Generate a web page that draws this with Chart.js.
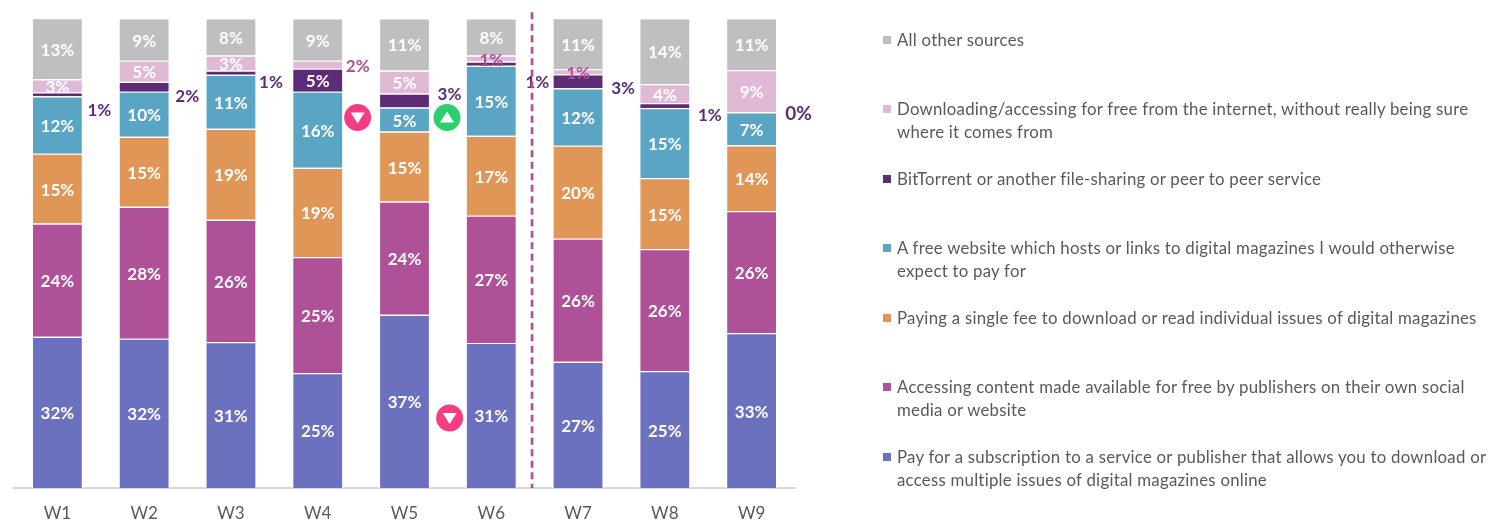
<!DOCTYPE html>
<html><head><meta charset="utf-8">
<style>
html,body{margin:0;padding:0;background:#fff;width:1489px;height:521px;overflow:hidden}
#wrap{position:relative;width:1489px;height:521px}
canvas{position:absolute;left:0;top:0}
.lg{position:absolute;left:897px;font:16.8px/23px Lato,sans-serif;letter-spacing:.25px;color:#595959;white-space:pre}
.sw{position:absolute;left:883px;width:8px;height:8px}
</style>
<script src="https://cdn.jsdelivr.net/npm/chart.js@4"></script>
</head><body>
<div id="wrap"><canvas id="c" width="1489" height="521"></canvas></div>
<script>
const categories=['W1','W2','W3','W4','W5','W6','W7','W8','W9'];
const subscription=[32.2,31.8,31.1,24.5,36.9,30.9,26.9,24.9,33];
const publisherFree=[24.1,28.1,26,24.7,24.1,27.1,26.2,26,26];
const singleFee=[14.9,14.9,19.4,19,14.9,17,19.8,15.1,14];
const freeWebsite=[12.2,9.6,11.5,16.2,5.1,14.9,12.2,14.9,7];
const bitTorrent=[0.85,2.1,0.9,4.9,3,0.9,3,1.1,0];
const freeInternet=[2.8,4.5,3.2,1.7,4.9,1.3,1.1,4,9];
const otherSources=[13,9,7.9,9,11.1,7.9,10.9,14,11];

const labelsSubscription=['32%','32%','31%','25%','37%','31%','27%','25%','33%'];
const labelsPublisherFree=['24%','28%','26%','25%','24%','27%','26%','26%','26%'];
const labelsSingleFee=['15%','15%','19%','19%','15%','17%','20%','15%','14%'];
const labelsFreeWebsite=['12%','10%','11%','16%','5%','15%','12%','15%','7%'];
const labelsBitTorrent=['1%','2%','1%','5%','3%','1%','3%','1%','0%'];
const labelsFreeInternet=['3%','5%','3%','2%','5%','1%','1%','4%','9%'];
const labelsOther=['13%','9%','8%','9%','11%','8%','11%','14%','11%'];

const names=['Pay for a subscription to a service or publisher that allows you to download or\naccess multiple issues of digital magazines online',
'Accessing content made available for free by publishers on their own social\nmedia or website',
'Paying a single fee to download or read individual issues of digital magazines',
'A free website which hosts or links to digital magazines I would otherwise\nexpect to pay for',
'BitTorrent or another file-sharing or peer to peer service',
'Downloading/accessing for free from the internet, without really being sure\nwhere it comes from',
'All other sources'];
const colors=['#6b70bf','#ae5199','#e09656','#5aa5c3','#5e2b77','#e0b9d7','#bfbfbf'];
const legendTops=[445,375,306,236,167,97,28];
const seriesValues=[subscription,publisherFree,singleFee,freeWebsite,bitTorrent,freeInternet,otherSources];
const seriesLabels=[labelsSubscription,labelsPublisherFree,labelsSingleFee,labelsFreeWebsite,labelsBitTorrent,labelsFreeInternet,labelsOther];

const DARK='#5e2b77',MAG='#ae5199';
// label placement exceptions: dataset index, bar index -> pixel offset and colour
const labelOverrides={
 '4,0':{dx:42,dy:15,color:DARK},'4,1':{dx:43,dy:8,color:DARK},'4,2':{dx:40,dy:8,color:DARK},
 '4,4':{dx:45,dy:-8,color:DARK},'4,5':{dx:46,dy:17,color:DARK},'4,6':{dx:45,dy:6,color:DARK},
 '4,7':{dx:45,dy:9,color:DARK},'4,8':{dx:47,dy:0,color:DARK,size:19},
 '5,3':{dx:40,dy:0,color:MAG},'5,5':{dx:0,dy:0,color:MAG},'5,6':{dx:0,dy:0,color:MAG}
};
const markers=[{i:3.46,v:78.9,up:false},{i:4.49,v:78.9,up:true},{i:4.52,v:14.9,up:false}];

const overlay={id:'overlay',
 afterDatasetsDraw(ch){
  const g=ch.ctx,x=ch.scales.x,y=ch.scales.y;
  g.save();
  g.textAlign='center';g.textBaseline='middle';
  ch.data.datasets.forEach((d,di)=>{
   ch.getDatasetMeta(di).data.forEach((b,bi)=>{
    const o=labelOverrides[di+','+bi]||{};
    const top=b.y,bot=b.base;
    g.font='bold '+(o.size||17)+'px Lato,sans-serif';
    g.fillStyle=o.color||'#fff';
    g.fillText(seriesLabels[di][bi],b.x+(o.dx||0),(top+bot)/2+(o.dy||0)+1.5);
   });
  });
  // dashed divider between W6 and W7
  const dx=x.getPixelForValue(5.47);
  g.strokeStyle=MAG;g.lineWidth=2.7;g.setLineDash([7,4.5]);
  g.beginPath();g.moveTo(dx,y.getPixelForValue(101.3));g.lineTo(dx,y.getPixelForValue(0));g.stroke();
  g.setLineDash([]);
  markers.forEach(m=>{
   const cx=x.getPixelForValue(m.i),cy=y.getPixelForValue(m.v);
   g.fillStyle=m.up?'#2ad06f':'#f63d84';
   g.beginPath();g.arc(cx,cy,13.5,0,Math.PI*2);g.fill();
   g.fillStyle='#fff';g.beginPath();
   if(m.up){g.moveTo(cx-7,cy+5);g.lineTo(cx+7,cy+5);g.lineTo(cx,cy-6);}
   else{g.moveTo(cx-7,cy-5);g.lineTo(cx+7,cy-5);g.lineTo(cx,cy+6);}
   g.closePath();g.fill();
  });
  g.restore();
 }};

new Chart(document.getElementById('c'),{
 type:'bar',
 data:{labels:categories,datasets:seriesValues.map((v,i)=>({label:names[i].replace('\n',' '),data:v,backgroundColor:colors[i],borderColor:'rgba(255,255,255,0.85)',borderWidth:1.2}))},
 options:{responsive:false,animation:false,
  layout:{padding:{left:14,right:694,top:18.4,bottom:0}},
  datasets:{bar:{barPercentage:0.59,categoryPercentage:1}},
  plugins:{legend:{display:false},tooltip:{enabled:false}},
  scales:{
   x:{stacked:true,grid:{display:false,drawTicks:false},border:{color:'#d9d9d9',width:2},
      afterFit(s){s.height=33;},
      ticks:{color:'#595959',font:{family:'Lato',size:17},padding:15,maxRotation:0}},
   y:{stacked:true,display:false,min:0,max:100}
  }},
 plugins:[overlay]
});
const wrap=document.getElementById('wrap');
names.forEach((n,i)=>{
 const t=document.createElement('div');t.className='lg';t.textContent=n;t.style.top=legendTops[i]+'px';wrap.appendChild(t);
 const s=document.createElement('div');s.className='sw';s.style.background=colors[i];s.style.top=(legendTops[i]+8)+'px';wrap.appendChild(s);
});
</script>
</body></html>
